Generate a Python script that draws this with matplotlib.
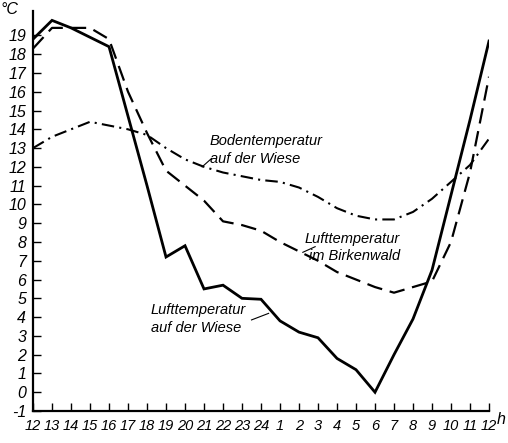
import matplotlib.pyplot as plt

# hours since 12 o'clock noon
hours = list(range(25))
x_labels = ["12", "13", "14", "15", "16", "17", "18", "19", "20", "21", "22", "23", "24",
            "1", "2", "3", "4", "5", "6", "7", "8", "9", "10", "11", "12"]

luft_wiese = [18.8, 19.8, 19.4, 18.9, 18.4, 14.7, 11.0, 7.2, 7.8, 5.5, 5.7, 5.0, 4.95,
              3.8, 3.2, 2.9, 1.8, 1.2, 0.0, 2.0, 3.9, 6.5, 10.5, 14.5, 18.7]
luft_birke = [18.3, 19.4, 19.4, 19.4, 18.8, 16.0, 13.8, 11.8, 11.0, 10.2, 9.1, 8.9, 8.6,
              8.0, 7.5, 7.0, 6.4, 6.0, 5.6, 5.3, 5.6, 5.9, 8.0, 11.7, 16.8]
boden_wiese = [13.0, 13.6, 14.0, 14.4, 14.2, 14.0, 13.7, 13.0, 12.4, 12.0, 11.7, 11.5, 11.3,
               11.2, 10.9, 10.4, 9.8, 9.4, 9.2, 9.2, 9.6, 10.3, 11.2, 12.1, 13.5]
y_ticks = list(range(-1, 20))

plt.rcParams['font.family'] = ['Liberation Sans', 'DejaVu Sans']

fig = plt.figure(figsize=(5.08, 4.43), dpi=100)
ax = fig.add_axes([0.065, 0.0722, 0.8976, 0.903])

ax.plot(hours, luft_wiese, color='black', lw=2.0, solid_joinstyle='miter')
ax.plot(hours, luft_birke, color='black', lw=1.6, dashes=(7, 3.5))
ax.plot(hours, boden_wiese, color='black', lw=1.5, dashes=(6, 2.5, 1, 2.5))

ax.set_xlim(0, 24)
ax.set_ylim(-1, 20.3)
for s in ['top', 'right']:
    ax.spines[s].set_visible(False)
for s in ['left', 'bottom']:
    ax.spines[s].set_linewidth(1.6)

ax.set_xticks(hours)
ax.set_xticklabels(x_labels, fontsize=10.5, style='italic')
ax.set_yticks(y_ticks)
ax.set_yticklabels([str(v) for v in y_ticks], fontsize=11.5, style='italic')
ax.tick_params(direction='in', length=6, width=1.0)
ax.tick_params(axis='x', pad=6)
ax.tick_params(axis='y', pad=5)

ax.text(-0.75, 20.4, "°C", fontsize=11.5, style='italic', ha='right', va='center')
ax.text(24.4, -1.45, "h", fontsize=11.5, style='italic', ha='left', va='center')

ax.text(9.3, 12.9, "Bodentemperatur\nauf der Wiese", fontsize=10.5, style='italic',
        ha='left', va='center', linespacing=1.3)
ax.plot([8.9, 9.4], [12.0, 12.45], color='black', lw=0.8)

ax.text(14.3, 7.7, "Lufttemperatur\nim Birkenwald", fontsize=10.5, style='italic',
        ha='left', va='center', linespacing=1.3, multialignment='right')
ax.plot([14.2, 14.85], [7.45, 7.75], color='black', lw=0.8)

ax.text(6.2, 3.9, "Lufttemperatur\nauf der Wiese", fontsize=10.5, style='italic',
        ha='left', va='center', linespacing=1.3)
ax.plot([11.5, 12.4], [3.85, 4.2], color='black', lw=0.8)

fig.savefig("out.png", dpi=100)
